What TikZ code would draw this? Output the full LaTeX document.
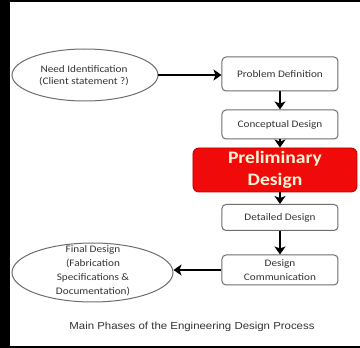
\documentclass[tikz,border=0pt]{standalone}
\usepackage{fontspec}
\setmainfont{Carlito}[FakeStretch=1.12]
\newfontfamily\capfont{Liberation Sans}[FakeStretch=1.12]
\usetikzlibrary{arrows.meta,shapes.geometric}
\definecolor{boxgray}{HTML}{6E6E6E}
\definecolor{txtgray}{HTML}{333333}
\definecolor{prelimred}{HTML}{F00A0A}
\definecolor{prelimedge}{HTML}{C00000}
\definecolor{prelimtext}{HTML}{FFF4D6}
\begin{document}
\begin{tikzpicture}[x=1pt,y=-1pt,
  stepbox/.style={draw=boxgray, line width=1pt, rounded corners=4pt, fill=white,
    minimum width=116pt, inner sep=0pt, align=center,
    font=\fontsize{10}{14}\selectfont, text=txtgray},
  oval/.style={ellipse, draw=boxgray, line width=1pt, inner sep=0pt, fill=white},
  ovaltext/.style={align=center, inner sep=0pt, text=txtgray},
  prelim/.style={draw=prelimedge, line width=0.9pt, rounded corners=6pt, fill=prelimred,
    minimum width=164pt, minimum height=44pt, inner sep=0pt, align=center,
    font=\fontsize{17.5}{22}\selectfont\bfseries, text=prelimtext},
  flow/.style={line width=2.1pt, -{Stealth[length=8pt,width=11pt,inset=2pt]}}]
% frame
\useasboundingbox (0,0) rectangle (360,348);
\fill[white] (0,0) rectangle (360,348);
\fill[black] (0,0) rectangle (10,348);
\fill[black] (0,0) rectangle (360,2);
\fill[black] (0,346) rectangle (360,348);
% nodes
\node[oval, minimum width=146pt, minimum height=52pt] (need) at (85,75) {};
\node[ovaltext, font=\fontsize{10}{12}\selectfont] (needtext) at (84,76) {Need Identification\\(Client statement ?)};
\node[stepbox, minimum height=34pt] (prob) at (280,74) {Problem Definition};
\node[stepbox, minimum height=29pt] (conc) at (280,124.5) {Conceptual Design};
\node[prelim] (pre) at (275,170) {Preliminary\\Design};
\node[stepbox, minimum height=26pt] (det) at (280,217.5) {Detailed Design};
\node[stepbox, minimum height=30pt] (comm) at (280,270) {Design\\Communication};
\node[oval, minimum width=161pt, minimum height=59pt] (fin) at (92.5,272.5) {};
\node[ovaltext, font=\fontsize{10}{14}\selectfont] (fintext) at (93,271) {Final Design\\(Fabrication\\Specifications \&\\Documentation)};
\node[inner sep=0pt, text=txtgray, font=\capfont\fontsize{10.2}{12}\selectfont] (cap) at (192,327) {Main Phases of the Engineering Design Process};
% connectors
\draw[flow] (need.east) -- (need.east -| prob.west);
\draw[flow] (prob.south) -- (conc.north);
\draw[flow] (conc.south) -- (conc.south |- pre.north);
\draw[flow] (pre.south -| det.north) -- (det.north);
\draw[flow] (det.south) -- (comm.north);
\draw[flow] (comm.west) -- (comm.west -| fin.east);
\end{tikzpicture}
\end{document}
